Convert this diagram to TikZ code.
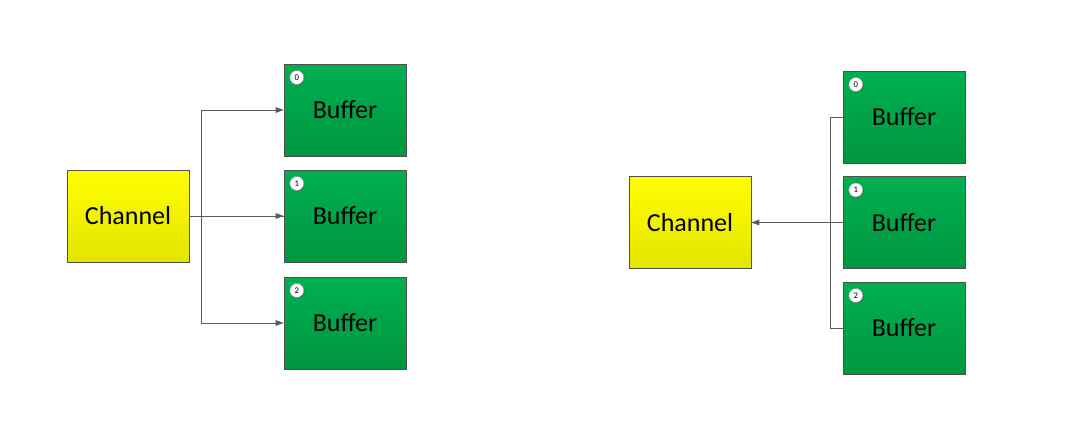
\documentclass[tikz,border=0pt]{standalone}
\usepackage{fontspec}
\setmainfont{Carlito}
\usetikzlibrary{positioning,arrows.meta,shadows}

\tikzset{
  box/.style={draw={rgb,255:red,80;green,80;blue,80},line width=0.5pt,
    minimum width=91.5pt,minimum height=69pt,inner sep=0pt,
    font=\fontsize{19.5}{22}\selectfont},
  chan/.style={box,top color={rgb,255:red,255;green,255;blue,0},
    bottom color={rgb,255:red,228;green,228;blue,0}},
  buf/.style={box,top color={rgb,255:red,0;green,176;blue,80},
    bottom color={rgb,255:red,0;green,150;blue,64}},
  badge/.style={circle,draw={rgb,255:red,150;green,150;blue,150},fill=white,
    line width=0.4pt,minimum size=10.5pt,inner sep=0pt,
    drop shadow={shadow xshift=0.7pt,shadow yshift=-0.7pt,
      fill={rgb,255:red,60;green,90;blue,60},opacity=0.6},
    font=\fontsize{6.5}{7}\selectfont},
  link/.style={draw={rgb,255:red,90;green,90;blue,90},line width=0.6pt},
  tip/.style={-{Triangle[length=6pt,width=4.2pt]}}
}

\begin{document}
\begin{tikzpicture}[x=0.75pt,y=0.75pt,yscale=-1,xscale=1]
\useasboundingbox (0,0) rectangle (1073,421);

%left: channel feeding three buffers
\node[chan] (chA) at (128,216) {Channel};
\node[buf] (bufA0) at (345,110) {Buffer};
\node[buf] (bufA1) at (345,216) {Buffer};
\node[buf] (bufA2) at (345,323) {Buffer};

\draw[link] (chA.east) -- (bufA1.west |- chA.east) coordinate (endA1);
\draw[link,tip] (chA.east) ++(12,0) coordinate (trunkA) |- (bufA0.west);
\draw[link,tip] (trunkA) |- (bufA2.west);
\draw[link,tip] (trunkA) -- (endA1);

%right: three buffers feeding channel
\node[chan] (chB) at (690,222.5) {Channel};
\node[buf] (bufB0) at (904,117) {Buffer};
\node[buf] (bufB1) at (904,222.5) {Buffer};
\node[buf] (bufB2) at (904,328) {Buffer};

\draw[link] (bufB0.west) -- ++(-12,0) |- (bufB2.west);
\draw[link,tip] (bufB1.west) -- (chB.east);

%badges
\foreach \b in {A,B}{
  \foreach \i in {0,1,2}{
    \node[badge,below right=6.5pt and 6pt of buf\b\i.north west] {\i};
  }
}
\end{tikzpicture}
\end{document}
